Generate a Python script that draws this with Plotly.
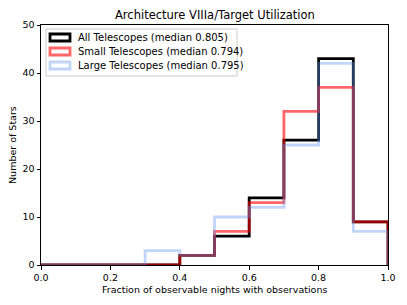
import plotly.graph_objects as go

# ---- data ----
bin_edges = [0.0, 0.1, 0.2, 0.3, 0.4, 0.5, 0.6, 0.7, 0.8, 0.9, 1.0]
all_counts = [0, 0, 0, 0, 2, 6, 14, 26, 43, 9]
small_counts = [0, 0, 0, 0, 2, 7, 13, 32, 37, 9]
large_counts = [0, 0, 0, 3, 2, 10, 12, 25, 42, 7]
series_names = ["All Telescopes (median 0.805)",
                "Small Telescopes (median 0.794)",
                "Large Telescopes (median 0.795)"]
x_ticks = [0.0, 0.2, 0.4, 0.6, 0.8, 1.0]
y_ticks = [0, 10, 20, 30, 40, 50]

colors = ["rgb(0,0,0)", "rgba(255,0,0,0.6)", "rgba(100,149,237,0.4)"]
LW = 2.8
FONT = "DejaVu Sans"

# page body has an 8px default margin; figure is sized to fill the rest
OFF = 8
W, H = 407 - OFF, 305 - OFF
L, R, T, B = 41 - OFF, 388 - OFF, 25 - OFF, 265 - OFF


def step_xy(edges, counts):
    xs = [edges[0]] + list(edges) + [edges[-1]]
    ys = [0] + list(counts) + [counts[-1], 0]
    return xs, ys


fig = go.Figure()
for name, counts, col in zip(series_names, [all_counts, small_counts, large_counts], colors):
    xs, ys = step_xy(bin_edges, counts)
    fig.add_trace(go.Scatter(x=xs, y=ys, mode="lines", name=name,
                             line=dict(color=col, width=LW, shape="hv"),
                             showlegend=False, hoverinfo="skip", cliponaxis=False))


def fx(px):
    return (px - OFF - L) / (R - L)


def fy(py):
    return (B - (py - OFF)) / (B - T)


shapes = []
annotations = []
# legend frame
shapes.append(dict(type="rect", xref="paper", yref="paper",
                   x0=fx(46), x1=fx(237), y0=fy(29), y1=fy(76),
                   line=dict(color="#cccccc", width=1), fillcolor="rgba(255,255,255,0.8)",
                   layer="above"))
rows = [37.5, 51.5, 65.5]
for name, col, ry in zip(series_names, colors, rows):
    shapes.append(dict(type="rect", xref="paper", yref="paper",
                       x0=fx(50), x1=fx(70), y0=fy(ry + 3.5), y1=fy(ry - 3.5),
                       line=dict(color=col, width=LW), fillcolor="rgba(0,0,0,0)",
                       layer="above"))
    annotations.append(dict(text=name, xref="paper", yref="paper",
                            x=fx(76), y=fy(ry), xanchor="left", yanchor="middle",
                            showarrow=False, font=dict(family=FONT, size=10, color="black")))

# axis titles as positioned annotations
annotations.append(dict(text="Fraction of observable nights with observations",
                        xref="paper", yref="paper", x=0.5, y=fy(289), xanchor="center",
                        yanchor="middle", showarrow=False,
                        font=dict(family=FONT, size=9.5, color="black")))
annotations.append(dict(text="Number of Stars", xref="paper", yref="paper",
                        x=fx(12), y=0.5, xanchor="center", yanchor="middle",
                        textangle=-90, showarrow=False,
                        font=dict(family=FONT, size=9.5, color="black")))
annotations.append(dict(text="Architecture VIIIa/Target Utilization", xref="paper",
                        yref="paper", x=0.5, y=fy(15), xanchor="center", yanchor="middle",
                        showarrow=False, font=dict(family=FONT, size=11.5, color="black")))

fig.update_layout(
    width=W, height=H,
    margin=dict(l=L, r=W - R, t=T, b=H - B, autoexpand=False),
    paper_bgcolor="white", plot_bgcolor="white",
    font=dict(family=FONT, size=9.5, color="black"),
    shapes=shapes, annotations=annotations,
    showlegend=False,
)
fig.update_xaxes(range=[0, 1], tickvals=x_ticks, tickformat=".1f", automargin=False,
                 showgrid=False, zeroline=False, showline=True, mirror=True,
                 linecolor="black", linewidth=1, ticks="outside", ticklen=3.5,
                 tickcolor="black", tickfont=dict(family=FONT, size=9.5))
fig.update_yaxes(range=[0, 50], tickvals=y_ticks, automargin=False,
                 showgrid=False, zeroline=False, showline=True, mirror=True,
                 linecolor="black", linewidth=1, ticks="outside", ticklen=3.5,
                 tickcolor="black", tickfont=dict(family=FONT, size=9.5))

fig.write_html("out.html")
